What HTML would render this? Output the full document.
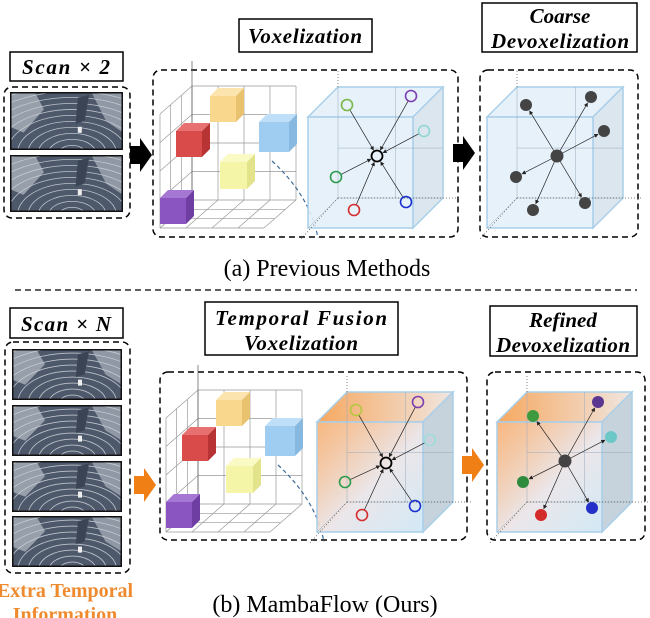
<!DOCTYPE html>
<html><head><meta charset="utf-8"><style>
html,body{margin:0;padding:0;background:#fff;}
svg{display:block;}
.lbl{font-family:"Liberation Serif",serif;font-weight:bold;font-style:italic;font-size:21px;fill:#000;}
.cap{font-family:"Liberation Serif",serif;font-size:24px;fill:#000;}
</style></head><body>
<svg id="fig" width="650" height="618" viewBox="0 0 650 618" xmlns="http://www.w3.org/2000/svg">
<defs>
<linearGradient id="og" x1="0" y1="0" x2="1" y2="1"><stop offset="0" stop-color="#f6a25a" stop-opacity="0.85"/><stop offset="0.55" stop-color="#e9e4e8"/><stop offset="1" stop-color="#cde6f5"/></linearGradient>
<linearGradient id="ogt" x1="0" y1="0" x2="1" y2="0"><stop offset="0" stop-color="#f6a860"/><stop offset="1" stop-color="#f0e6e0"/></linearGradient>
<marker id="ah" markerWidth="6" markerHeight="6" refX="5" refY="3" orient="auto"><path d="M0,0 L6,3 L0,6 z" fill="#222"/></marker>
</defs>
<g id="root"></g>
<rect x="10" y="52" width="113" height="29" fill="#fff" stroke="#000" stroke-width="1.5"/>
<text class="lbl" x="66" y="74" text-anchor="middle" textLength="88">Scan × 2</text>
<rect x="239" y="19" width="133" height="33" fill="#fff" stroke="#000" stroke-width="1.5"/>
<text class="lbl" x="305" y="43" text-anchor="middle" textLength="114">Voxelization</text>
<rect x="482" y="3" width="155" height="49" fill="#fff" stroke="#000" stroke-width="1.5"/>
<text class="lbl" x="560" y="23" text-anchor="middle">Coarse</text>
<text class="lbl" x="560" y="48" text-anchor="middle" textLength="138">Devoxelization</text>
<text class="cap" x="327" y="276" text-anchor="middle">(a) Previous Methods</text>
<line x1="15" y1="290" x2="637" y2="290" stroke="#000" stroke-width="1.3" stroke-dasharray="6,4"/>
<rect x="10" y="308" width="113" height="30" fill="#fff" stroke="#000" stroke-width="1.5"/>
<text class="lbl" x="66" y="331" text-anchor="middle" textLength="90">Scan × N</text>
<rect x="205" y="302" width="193" height="53" fill="#fff" stroke="#000" stroke-width="1.5"/>
<text class="lbl" x="301" y="325" text-anchor="middle" textLength="172">Temporal Fusion</text>
<text class="lbl" x="301" y="350" text-anchor="middle" textLength="114">Voxelization</text>
<rect x="490" y="306" width="147" height="50" fill="#fff" stroke="#000" stroke-width="1.5"/>
<text class="lbl" x="563" y="327" text-anchor="middle">Refined</text>
<text class="lbl" x="563" y="352" text-anchor="middle" textLength="134">Devoxelization</text>
<text x="65" y="597" text-anchor="middle" style="font-family:'Liberation Serif',serif;font-weight:bold;font-size:20px;fill:#ef8a2e">Extra Temporal</text>
<text x="65" y="621" text-anchor="middle" style="font-family:'Liberation Serif',serif;font-weight:bold;font-size:20px;fill:#ef8a2e">Information</text>
<text class="cap" x="325" y="612" text-anchor="middle">(b) MambaFlow (Ours)</text>
</svg>
<script>
const NS='http://www.w3.org/2000/svg';
const root=document.getElementById('root');
function mk(tag,attrs,parent){const e=document.createElementNS(NS,tag);for(const k in attrs)e.setAttribute(k,attrs[k]);(parent||root).appendChild(e);return e;}

function dashedBox(x,y,w,h,name){
  const e=mk('rect',{x:x,y:y,width:w,height:h,rx:8,fill:'none',stroke:'#000','stroke-width':1.5,'stroke-dasharray':'6,4'});
  
  
}
function scanImg(x,y,w,h,name){
  const g=mk('svg',{x:x,y:y,width:w,height:h,overflow:'hidden'});
  
  
  mk('rect',{x:0,y:0,width:w,height:h,fill:'#4d586a'},g);
  const cx=w*0.55,cy=h*1.05;
  for(let r=10;r<w;r+=8){mk('path',{d:`M${cx-r*1.3},${cy} A${r*1.3},${r*0.75} 0 0 1 ${cx+r*1.3},${cy}`,fill:'none',stroke:'#d8dde4','stroke-width':0.8,'stroke-opacity':0.8},g);}
  mk('path',{d:`M0,0 L${w*0.22},0 L${w*0.3},${h*0.3} L${w*0.12},${h*0.7} L0,${h*0.6} z`,fill:'#c9ced6','fill-opacity':0.6},g);
  mk('path',{d:`M${w*0.72},0 L${w},0 L${w},${h*0.7} L${w*0.85},${h*0.5} z`,fill:'#c9ced6','fill-opacity':0.55},g);
  mk('path',{d:`M${w*0.6},${h*0.1} L${w*0.7},${h*0.05} L${w*0.66},${h*0.5} L${w*0.58},${h*0.55} z`,fill:'#3a4454'},g);
  mk('rect',{x:w*0.6,y:h*0.6,width:4,height:6,fill:'#eee'},g);
  mk('rect',{x:0.75,y:0.75,width:w-1.5,height:h-1.5,fill:'none',stroke:'#111','stroke-width':1.5},g);
}
function arrow(x,y,color,name){
  const e=mk('path',{d:`M${x},${y-9} L${x+10},${y-9} L${x+10},${y-17} L${x+22},${y} L${x+10},${y+17} L${x+10},${y+9} L${x},${y+9} z`,fill:color});
  
  
}
function smallCube(x,y,s,front,top,side,g){
  const d=8;
  mk('rect',{x:x,y:y,width:s,height:s,fill:front},g);
  mk('path',{d:`M${x},${y} L${x+d},${y-d} L${x+s+d},${y-d} L${x+s},${y} z`,fill:top},g);
  mk('path',{d:`M${x+s},${y} L${x+s+d},${y-d} L${x+s+d},${y+s-d} L${x+s},${y+s} z`,fill:side},g);
}
function grid(ox,oy,name){
  const g=mk('g',{});
  
  
  const L='#999',bx=ox+32,by=oy,bw=104,bh=114,dx=32,dy=28;
  for(let i=0;i<=4;i++){const X=bx+bw*i/4;mk('line',{x1:X,y1:by,x2:X,y2:by+bh,stroke:L,'stroke-width':0.7},g);
    mk('line',{x1:X,y1:by+bh,x2:X-dx,y2:by+bh+dy,stroke:L,'stroke-width':0.7},g);}
  for(let i=0;i<=4;i++){const Y=by+bh*i/4;mk('line',{x1:bx,y1:Y,x2:bx+bw,y2:Y,stroke:L,'stroke-width':0.7},g);
    mk('line',{x1:bx,y1:Y,x2:bx-dx,y2:Y+dy,stroke:L,'stroke-width':0.7},g);}
  for(let i=1;i<=3;i++){const t=i/3;mk('line',{x1:bx-dx*t,y1:by+dy*t,x2:bx-dx*t,y2:by+bh+dy*t,stroke:L,'stroke-width':0.7},g);
    mk('line',{x1:bx-dx*t,y1:by+bh+dy*t,x2:bx+bw-dx*t,y2:by+bh+dy*t,stroke:L,'stroke-width':0.7},g);}
  mk('line',{x1:bx,y1:by-25,x2:bx,y2:by+bh,stroke:'#555','stroke-width':0.7},g);
  smallCube(ox+50,oy+10,26,'#f9d88e','#fbe4ae','#e8c26e',g);
  smallCube(ox+16,oy+45,26,'#d94a4a','#e77070','#b83434',g);
  smallCube(ox+99,oy+36,30,'#9fcdf2','#bfdff8','#86b8e0',g);
  smallCube(ox+60,oy+76,27,'#f5f5a8','#fafac4','#e3e38c',g);
  smallCube(ox+0,oy+112,26,'#8a55c0','#a377d2','#6f3ea3',g);
  mk('path',{d:`M${ox+112},${oy+75} Q${ox+150},${oy+110} ${ox+158},${oy+152}`,fill:'none',stroke:'#3d6d9a','stroke-width':1.2,'stroke-dasharray':'4,3'},g);
}
function bigCube(fx,fy,fw,fh,grad,name){
  const g=mk('g',{});
  
  
  const d=30;
  mk('path',{d:`M${fx},${fy} L${fx+d},${fy-d} L${fx+fw+d},${fy-d} L${fx+fw},${fy} z`,fill:grad?'url(#ogt)':'#e6f1fa',stroke:'#a9cfe9','stroke-width':1.5},g);
  mk('path',{d:`M${fx+fw},${fy} L${fx+fw+d},${fy-d} L${fx+fw+d},${fy+fh-d} L${fx+fw},${fy+fh} z`,fill:grad?'#c7d3dc':'#dbe6ef',stroke:'#a9cfe9','stroke-width':1.5},g);
  mk('rect',{x:fx,y:fy,width:fw,height:fh,fill:grad?'url(#og)':'#e3eff9','fill-opacity':0.9,stroke:'#a9cfe9','stroke-width':1.5},g);
  const L='#9ab';
  mk('line',{x1:fx+d,y1:fy-d,x2:fx+d,y2:fy+fh-d,stroke:L,'stroke-width':0.5},g);
  mk('line',{x1:fx+d,y1:fy+fh-d,x2:fx+fw+d,y2:fy+fh-d,stroke:L,'stroke-width':0.5},g);
  mk('line',{x1:fx,y1:fy+fh,x2:fx+d,y2:fy+fh-d,stroke:L,'stroke-width':0.5},g);
  mk('line',{x1:fx+d,y1:fy+fh*0.55-d,x2:fx+fw+d,y2:fy+fh*0.55-d,stroke:L,'stroke-width':0.5},g);
  mk('line',{x1:fx+fw*0.55+d,y1:fy-d,x2:fx+fw*0.55+d,y2:fy+fh-d,stroke:L,'stroke-width':0.5},g);
  mk('line',{x1:fx+d,y1:fy-d-16,x2:fx+d,y2:fy-d,stroke:'#555','stroke-width':0.7,'stroke-dasharray':'1,2'},g);
  mk('line',{x1:fx+d,y1:fy+fh-d,x2:fx+fw+d+18,y2:fy+fh-d,stroke:'#555','stroke-width':0.7,'stroke-dasharray':'1,2'},g);
  mk('line',{x1:fx+d,y1:fy+fh-d,x2:fx-8,y2:fy+fh+12,stroke:'#555','stroke-width':0.7,'stroke-dasharray':'1,2'},g);
  return g;
}
function ringsIn(cx,cy,pts,g){
  pts.forEach(p=>{
    const ang=Math.atan2(cy-p[1],cx-p[0]),r=7;
    mk('line',{x1:p[0]+Math.cos(ang)*6,y1:p[1]+Math.sin(ang)*6,x2:cx-Math.cos(ang)*r,y2:cy-Math.sin(ang)*r,stroke:'#222','stroke-width':0.7,'marker-end':'url(#ah)'},g);
    mk('circle',{cx:p[0],cy:p[1],r:5.5,fill:'none',stroke:p[2],'stroke-width':1.6},g);
  });
  mk('circle',{cx:cx,cy:cy,r:5.5,fill:'none',stroke:'#000','stroke-width':1.8},g);
}
function dotsOut(cx,cy,pts,g){
  pts.forEach(p=>{
    const ang=Math.atan2(p[1]-cy,p[0]-cx);
    mk('line',{x1:cx,y1:cy,x2:p[0]-Math.cos(ang)*7,y2:p[1]-Math.sin(ang)*7,stroke:'#222','stroke-width':0.7,'marker-end':'url(#ah)'},g);
    mk('circle',{cx:p[0],cy:p[1],r:6,fill:p[2]},g);
  });
  mk('circle',{cx:cx,cy:cy,r:6.5,fill:'#444'},g);
}

dashedBox(4,87,126,131,'scan-x2-group');
scanImg(10,92,113,58,'scan-image-1');
scanImg(10,155,113,57,'scan-image-2');
arrow(130,155,'#000','arrow-to-voxelization');
dashedBox(153,70,305,167,'voxelization-panel');
grid(160,86,'voxel-grid-a');
let c1=bigCube(308,117,105,111,false,'voxel-cube-a');
ringsIn(377,156,[[347,105,'#7ab648'],[411,96,'#7b3fb0'],[424,131,'#8fd6d2'],[336,177,'#2e9b4c'],[354,210,'#d62e2e'],[406,202,'#1a2fd0']],c1);
arrow(453,153,'#000','arrow-to-coarse');
dashedBox(480,70,158,167,'coarse-devox-panel');
let c2=bigCube(487,117,106,111,false,'coarse-cube');
dotsOut(557,156,[[526,105,'#444'],[591,97,'#444'],[604,131,'#444'],[516,177,'#444'],[533,210,'#444'],[585,203,'#444']],c2);

dashedBox(5,342,125,231,'scan-xn-group');
[349,405,461,516].forEach((y,i)=>scanImg(12,y,110,51,'scan-image-n'+(i+1)));
arrow(134,485,'#f07f16','orange-arrow-to-fusion');
dashedBox(160,372,307,168,'temporal-fusion-panel');
grid(166,390,'voxel-grid-b');
let c3=bigCube(317,422,106,110,true,'fusion-cube');
ringsIn(386,463,[[356,410,'#b5c743'],[418,402,'#7b3fb0'],[430,440,'#9fdcdc'],[345,482,'#2e9b4c'],[362,515,'#d62e2e'],[415,506,'#1a2fd0']],c3);
arrow(462,465,'#f07f16','orange-arrow-to-refined');
dashedBox(487,372,158,168,'refined-devox-panel');
let c4=bigCube(497,422,105,110,true,'refined-cube');
dotsOut(565,461,[[533,416,'#3f9a3f'],[598,402,'#5b3690'],[611,437,'#6cc7c7'],[523,482,'#2e8b3e'],[541,515,'#d42a2a'],[592,508,'#2430c8']],c4);
</script>
</body></html>
